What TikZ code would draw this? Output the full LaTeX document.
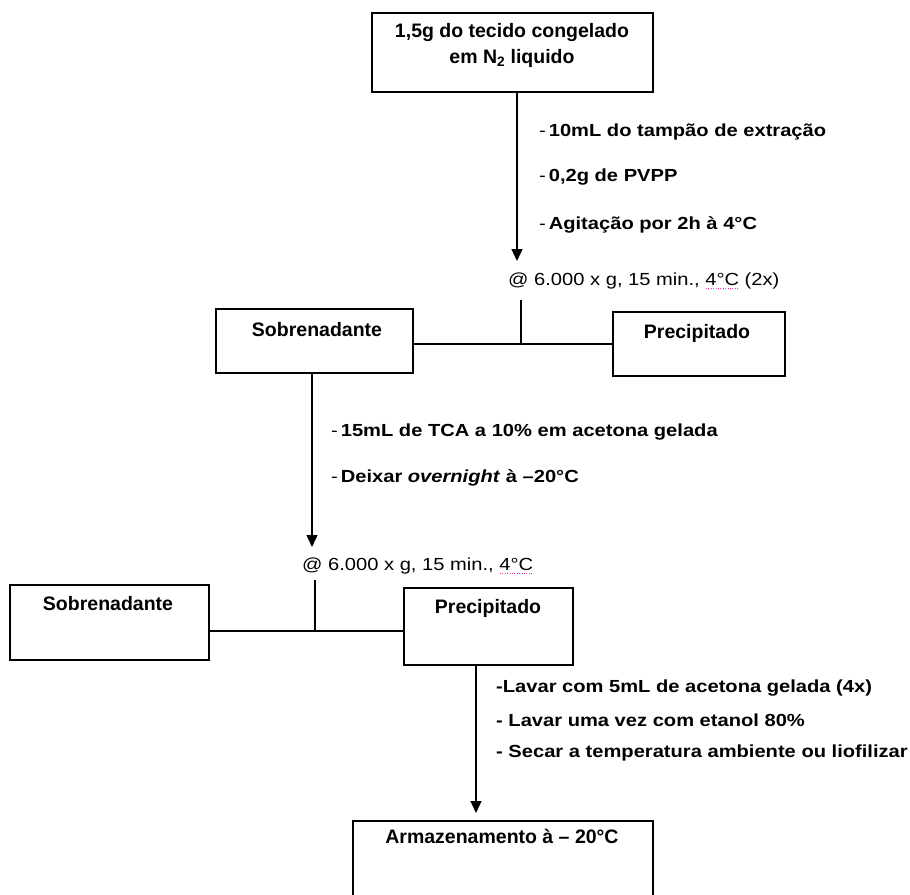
\documentclass[tikz,border=0pt]{standalone}
\usepackage{fontspec}
\setmainfont{Liberation Sans}
\newfontfamily\sidefont{Liberation Sans}[FakeStretch=1.15]
\usetikzlibrary{arrows.meta,calc}
\newcommand\spellmark[1]{\setbox0\hbox{#1}\rlap{\raisebox{-4pt}{\color{magenta!80!white}\leaders\hbox to 2.4pt{\hss\rule{1pt}{1pt}\hss}\hskip\wd0}}\box0\relax}
\tikzset{
  box/.style={draw=black, line width=1.4pt, rectangle, inner sep=0pt},
  boxtext/.style={anchor=base, inner sep=0pt, font=\fontsize{19.5}{25}\selectfont\bfseries},
  sidetext/.style={anchor=base west, inner sep=0pt, font=\sidefont\fontsize{17.5}{21}\selectfont\bfseries},
  centtext/.style={anchor=base west, inner sep=0pt, font=\sidefont\fontsize{17.5}{21}\selectfont},
  conn/.style={draw=black, line width=1.4pt},
  arr/.style={conn, -{Triangle[length=12pt,width=11pt]}}
}
\begin{document}
\begin{tikzpicture}[x=1pt,y=-1pt]
\useasboundingbox (0,0) rectangle (910,894);
% boxes
\node[box, minimum width=281pt, minimum height=79pt] (top) at (512.5,52.5) {};
\node[boxtext] (toptA) at (512,37) {1,5g do tecido congelado};
\node[boxtext] (toptB) at (512,63) {em N\textsubscript{2} liquido};
\node[box, minimum width=197pt, minimum height=64pt] (sob1) at (314.5,341) {};
\node[boxtext] (sob1t) at (317,336) {Sobrenadante};
\node[box, minimum width=172pt, minimum height=64pt] (prec1) at (699,344) {};
\node[boxtext] (prec1t) at (697,338) {Precipitado};
\node[box, minimum width=199pt, minimum height=75pt] (sob2) at (109.5,622.5) {};
\node[boxtext] (sob2t) at (108,610) {Sobrenadante};
\node[box, minimum width=169pt, minimum height=77pt] (prec2) at (488.5,626.5) {};
\node[boxtext] (prec2t) at (488,613) {Precipitado};
\node[box, minimum width=300pt, minimum height=86pt] (arm) at (503,864) {};
\node[boxtext] (armt) at (502,843) {Armazenamento à – 20°C};
% side texts
\node[sidetext] (b1) at (539,136) {\mdseries-\,\bfseries 10mL do tampão de extração};
\node[sidetext] (b2) at (539,181) {\mdseries-\,\bfseries 0,2g de PVPP};
\node[sidetext] (b3) at (539,229) {\mdseries-\,\bfseries Agitação por 2h à 4°C};
\node[centtext] (c1) at (508,285) {@ 6.000 x g, 15 min., \spellmark{4°C} (2x)};
\node[sidetext] (b4) at (331,436) {\mdseries-\,\bfseries 15mL de TCA a 10\% em acetona gelada};
\node[sidetext] (b5) at (331,482) {\mdseries-\,\bfseries Deixar \textit{overnight} à –20°C};
\node[centtext] (c2) at (302,570) {@ 6.000 x g, 15 min., \spellmark{4°C}};
\node[sidetext] (b6) at (496,692) {-Lavar com 5mL de acetona gelada (4x)};
\node[sidetext] (b7) at (496,726) {- Lavar uma vez com etanol 80\%};
\node[sidetext] (b8) at (496,757) {- Secar a temperatura ambiente ou liofilizar};
% connection points
\coordinate (t1) at (517,261);
\coordinate (j1top) at (521,300);
\coordinate (j1) at (521,344);
\coordinate (t2) at (312,547);
\coordinate (j2top) at (315,580);
\coordinate (j2) at (315,631);
\coordinate (t3) at (476,813);
% connectors
\draw[arr] (top.south -| t1) -- (t1);
\draw[conn] (j1top) -- (j1);
\draw[conn] (sob1.east |- j1) -- (prec1.west |- j1);
\draw[arr] (sob1.south -| t2) -- (t2);
\draw[conn] (j2top) -- (j2);
\draw[conn] (sob2.east |- j2) -- (prec2.west |- j2);
\draw[arr] (prec2.south -| t3) -- (t3);
\end{tikzpicture}
\end{document}
